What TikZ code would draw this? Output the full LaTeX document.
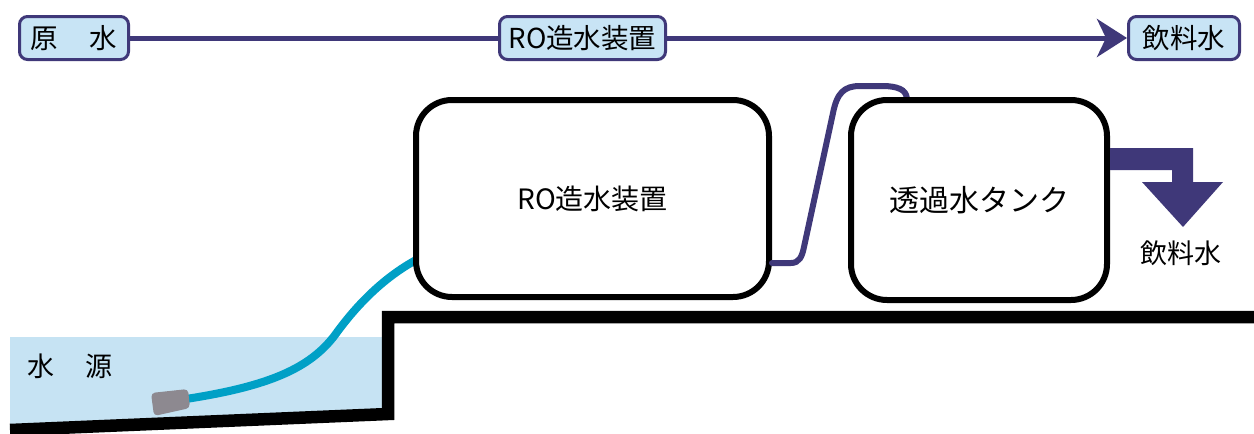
\documentclass[tikz,border=0pt]{standalone}
\usepackage{fontspec}
\setmainfont{Noto Sans CJK JP}
\usetikzlibrary{arrows.meta}
\definecolor{flow}{HTML}{3F3879}
\definecolor{tagfill}{HTML}{C8E4F5}
\definecolor{water}{HTML}{C6E3F3}
\definecolor{hose}{HTML}{00A0C6}
\definecolor{pumpgray}{HTML}{8D8990}
\tikzset{
  tag/.style={draw=flow, line width=3pt, fill=tagfill, rounded corners=8pt,
    minimum height=43pt, inner sep=0pt, font=\fontsize{27.5}{27.5}\selectfont},
  flowline/.style={draw=flow, line width=5pt},
  unit/.style={draw=black, line width=6pt, fill=white, rounded corners=36pt,
    inner sep=0pt, font=\fontsize{28}{28}\selectfont},
  label/.style={inner sep=0pt, font=\fontsize{27}{27}\selectfont},
}
\begin{document}
\begin{tikzpicture}[x=1pt,y=-1pt]
\useasboundingbox (0,0) rectangle (1254,434);

% process flow along the top
\node[tag, minimum width=109pt] (src) at (74,38) {原\hspace{1.15em}水};
\node[tag, minimum width=166pt] (rotag) at (582.5,38) {RO造水装置};
\node[tag, minimum width=111pt] (dst) at (1184,38) {飲料水};
\draw[flowline] (src) -- (rotag);
\draw[flowline, -{Stealth[length=30pt, width=38pt, inset=9pt]}] (rotag) -- (dst);

% water source and ground
\fill[water] (10,337) -- (388,337) -- (388,414) -- (10,429) -- cycle;
\draw[line width=12.5pt, line join=miter] (10,430) -- (388,414) -- (388,317) -- (1254,317);
\node[label, anchor=west] (pond) at (27,366) {水\hspace{1.15em}源};

% intake hose and pump
\coordinate (pumpout) at (186,399);
\coordinate (hosein) at (416,260);
\draw[hose, line width=8pt] (pumpout) .. controls (270,386) and (310,368) .. (335,335)
  .. controls (358,303) and (385,277) .. (hosein);
\fill[pumpgray, rounded corners=4pt] (151,393) -- (188,389) -- (190,408) -- (154,416) -- cycle;

% RO unit
\node[unit, minimum width=353pt, minimum height=197pt] (ro) at (592.5,198.5) {RO造水装置};

% permeate line to the tank
\coordinate (roout) at (772,263);
\coordinate (tankin) at (907,101);
\draw[flowline, line width=6pt, line cap=round] (roout) -- (791,263)
  .. controls (799,263) and (802,257) .. (804,247) -- (833,113)
  .. controls (837,93) and (844,86) .. (860,86) -- (885,86)
  .. controls (903,87) and (907,92) .. (tankin);

% permeate tank
\node[unit, minimum width=256pt, minimum height=200pt, font=\fontsize{30}{30}\selectfont] (tank) at (979,200) {透過水タンク};

% product water outlet
\coordinate (spout) at (1110,159);
\fill[flow] (1110,148) -- (1193,148) -- (1193,182) -- (1223,182) -- (1183,227)
  -- (1142,182) -- (1172,182) -- (1172,170) -- (1110,170) -- cycle;
\node[label] (prod) at (1181,253) {飲料水};
\end{tikzpicture}
\end{document}
